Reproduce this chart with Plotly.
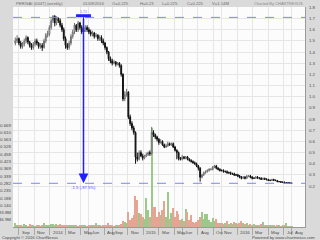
import pandas as pd
import plotly.graph_objects as go

# ---------------- data ----------------
first_week = "2013-08-19"
n_weeks = 155

opens = [1.48, 1.50, 1.52, 1.48, 1.45, 1.47, 1.50, 1.53, 1.49, 1.46,
         1.44, 1.47, 1.50, 1.48, 1.45, 1.46, 1.44, 1.50, 1.55, 1.56,
         1.62, 1.68, 1.72, 1.66, 1.70, 1.68, 1.64, 1.60, 1.52, 1.46,
         1.44, 1.48, 1.54, 1.58, 1.64, 1.60, 1.66, 1.62, 1.58, 1.60,
         1.62, 1.60, 1.58, 1.56, 1.57, 1.54, 1.55, 1.52, 1.53, 1.50,
         1.48, 1.44, 1.40, 1.34, 1.32, 1.30, 1.31, 1.29, 1.30, 1.28,
         1.20, 0.98, 1.02, 1.04, 0.82, 0.76, 0.72, 0.68, 0.46, 0.44,
         0.50, 0.47, 0.45, 0.47, 0.48, 0.50, 0.49, 0.68, 0.66, 0.64,
         0.62, 0.59, 0.60, 0.57, 0.55, 0.56, 0.58, 0.57, 0.58, 0.55,
         0.52, 0.50, 0.45, 0.44, 0.46, 0.45, 0.46, 0.44, 0.43, 0.42,
         0.41, 0.40, 0.38, 0.36, 0.28, 0.30, 0.32, 0.33, 0.34, 0.35,
         0.35, 0.37, 0.38, 0.36, 0.35, 0.34, 0.34, 0.33, 0.33, 0.32,
         0.32, 0.31, 0.31, 0.30, 0.30, 0.29, 0.28, 0.27, 0.28, 0.27,
         0.29, 0.29, 0.28, 0.27, 0.27, 0.28, 0.27, 0.27, 0.26, 0.27,
         0.26, 0.26, 0.25, 0.25, 0.26, 0.25, 0.25, 0.24, 0.24, 0.235,
         0.235, 0.23, 0.23, 0.23, 0.225]

highs = [1.53, 1.55, 1.53, 1.50, 1.49, 1.52, 1.55, 1.54, 1.50, 1.48,
         1.49, 1.52, 1.52, 1.49, 1.48, 1.48, 1.52, 1.57, 1.59, 1.64,
         1.70, 1.73, 1.73, 1.72, 1.71, 1.70, 1.66, 1.62, 1.54, 1.48,
         1.50, 1.56, 1.60, 1.66, 1.65, 1.68, 1.67, 1.64, 1.71, 1.64,
         1.64, 1.62, 1.60, 1.59, 1.58, 1.57, 1.56, 1.55, 1.55, 1.52,
         1.49, 1.45, 1.41, 1.36, 1.34, 1.33, 1.32, 1.31, 1.31, 1.29,
         1.21, 1.05, 1.07, 1.05, 0.84, 0.78, 0.74, 0.69, 0.50, 0.52,
         0.52, 0.49, 0.48, 0.50, 0.51, 0.52, 0.73, 0.70, 0.67, 0.65,
         0.63, 0.62, 0.61, 0.58, 0.58, 0.60, 0.59, 0.59, 0.59, 0.56,
         0.53, 0.51, 0.46, 0.48, 0.47, 0.47, 0.47, 0.45, 0.44, 0.43,
         0.42, 0.41, 0.39, 0.37, 0.31, 0.33, 0.34, 0.35, 0.36, 0.36,
         0.38, 0.39, 0.39, 0.37, 0.36, 0.35, 0.35, 0.34, 0.34, 0.33,
         0.33, 0.32, 0.32, 0.31, 0.31, 0.30, 0.29, 0.29, 0.29, 0.30,
         0.30, 0.30, 0.29, 0.28, 0.29, 0.29, 0.28, 0.28, 0.275, 0.275,
         0.27, 0.265, 0.26, 0.265, 0.265, 0.26, 0.255, 0.245, 0.245, 0.24,
         0.24, 0.235, 0.235, 0.235, 0.23]

lows = [1.46, 1.48, 1.46, 1.43, 1.43, 1.45, 1.48, 1.47, 1.44, 1.42,
        1.42, 1.45, 1.46, 1.43, 1.43, 1.41, 1.43, 1.48, 1.53, 1.54,
        1.60, 1.66, 1.63, 1.64, 1.66, 1.62, 1.58, 1.50, 1.43, 1.42,
        1.42, 1.46, 1.52, 1.56, 1.58, 1.58, 1.60, 1.56, 1.55, 1.58,
        1.58, 1.56, 1.54, 1.54, 1.52, 1.53, 1.50, 1.50, 1.48, 1.46,
        1.42, 1.38, 1.32, 1.30, 1.28, 1.29, 1.27, 1.28, 1.26, 1.18,
        0.96, 0.96, 1.00, 0.80, 0.74, 0.70, 0.66, 0.40, 0.42, 0.43,
        0.46, 0.43, 0.44, 0.46, 0.47, 0.47, 0.48, 0.64, 0.62, 0.60,
        0.57, 0.58, 0.56, 0.54, 0.54, 0.55, 0.56, 0.56, 0.54, 0.51,
        0.44, 0.43, 0.43, 0.43, 0.44, 0.44, 0.43, 0.42, 0.41, 0.40,
        0.39, 0.37, 0.34, 0.24, 0.27, 0.29, 0.31, 0.32, 0.33, 0.34,
        0.34, 0.36, 0.35, 0.34, 0.33, 0.33, 0.32, 0.32, 0.31, 0.31,
        0.30, 0.30, 0.29, 0.29, 0.28, 0.27, 0.26, 0.265, 0.26, 0.265,
        0.28, 0.27, 0.26, 0.265, 0.265, 0.265, 0.26, 0.255, 0.255, 0.255,
        0.25, 0.245, 0.245, 0.245, 0.245, 0.245, 0.235, 0.235, 0.23, 0.23,
        0.225, 0.225, 0.225, 0.22, 0.22]

closes = [1.50, 1.52, 1.48, 1.45, 1.47, 1.50, 1.53, 1.49, 1.46, 1.44,
          1.47, 1.50, 1.48, 1.45, 1.46, 1.44, 1.50, 1.55, 1.56, 1.62,
          1.68, 1.72, 1.66, 1.70, 1.68, 1.64, 1.60, 1.52, 1.46, 1.44,
          1.48, 1.54, 1.58, 1.64, 1.60, 1.66, 1.62, 1.58, 1.60, 1.62,
          1.60, 1.58, 1.56, 1.57, 1.54, 1.55, 1.52, 1.53, 1.50, 1.48,
          1.44, 1.40, 1.34, 1.32, 1.30, 1.31, 1.29, 1.30, 1.28, 1.20,
          0.98, 1.02, 1.04, 0.82, 0.76, 0.72, 0.68, 0.46, 0.44, 0.50,
          0.47, 0.45, 0.47, 0.48, 0.50, 0.49, 0.68, 0.66, 0.64, 0.62,
          0.59, 0.60, 0.57, 0.55, 0.56, 0.58, 0.57, 0.58, 0.55, 0.52,
          0.50, 0.45, 0.44, 0.46, 0.45, 0.46, 0.44, 0.43, 0.42, 0.41,
          0.40, 0.38, 0.36, 0.28, 0.30, 0.32, 0.33, 0.34, 0.35, 0.35,
          0.37, 0.38, 0.36, 0.35, 0.34, 0.34, 0.33, 0.33, 0.32, 0.32,
          0.31, 0.31, 0.30, 0.30, 0.29, 0.28, 0.27, 0.28, 0.27, 0.29,
          0.29, 0.28, 0.27, 0.27, 0.28, 0.27, 0.27, 0.26, 0.27, 0.26,
          0.26, 0.25, 0.25, 0.26, 0.25, 0.25, 0.24, 0.24, 0.235, 0.235,
          0.23, 0.23, 0.23, 0.225, 0.225]

volumes_m = [25, 10, 8, 12, 6, 16, 8, 6, 20, 10,
             8, 6, 12, 8, 6, 8, 26, 14, 10, 12,
             18, 20, 14, 16, 10, 18, 12, 8, 10, 14,
             10, 8, 12, 8, 10, 6, 8, 10, 12, 8,
             6, 10, 8, 14, 10, 26, 12, 8, 6, 8,
             10, 14, 22, 10, 8, 6, 10, 8, 12, 20,
             40, 30, 25, 92, 45, 55, 75, 195, 170, 85,
             80, 62, 52, 182, 105, 64, 620, 128, 125, 64,
             92, 74, 106, 162, 62, 220, 52, 85, 118, 62,
             100, 84, 42, 52, 36, 112, 95, 42, 74, 32,
             26, 32, 42, 64, 95, 52, 80, 80, 42, 32,
             58, 36, 48, 26, 22, 22, 16, 22, 38, 16,
             22, 16, 32, 22, 16, 26, 38, 22, 16, 22,
             10, 16, 10, 16, 10, 12, 10, 16, 32, 10,
             8, 12, 8, 10, 8, 6, 10, 8, 6, 10,
             8, 26, 6, 5, 4]

marked_week = 38          # highlighted (blue) candle, start of the measurement
measure_high = 1.71
measure_last = 0.225
measure_text = "-1.5 (-87.5%)"
measure_top_text = "1.71"

month_dates = ["2013-09-01", "2013-11-01", "2014-01-01", "2014-03-01", "2014-05-01",
               "2014-06-01", "2014-08-01", "2014-09-01", "2014-11-01", "2015-01-01",
               "2015-03-01", "2015-05-01", "2015-06-01", "2015-08-01", "2015-10-01",
               "2015-11-01", "2016-01-01", "2016-03-01", "2016-05-01", "2016-07-01",
               "2016-08-01"]
month_labels = ["Sep", "Nov", "2014", "Mar", "May", "Jun", "Aug", "Sep", "Nov", "2015",
                "Mar", "May", "Jun", "Aug", "Oct", "Nov", "2016", "Mar", "May", "Jul", "Aug"]

price_ticks = [0.2, 0.3, 0.4, 0.5, 0.6, 0.7, 0.8, 0.9, 1.0, 1.1, 1.2, 1.3, 1.4, 1.5, 1.6, 1.7, 1.8]
price_tick_text = ["0.2", "0.3", "0.4", "0.5", "0.6", "0.7", "0.8", "0.9", "1.0", "1.1",
                   "1.2", "1.3", "1.4", "1.5", "1.6", "1.7", "1.8"]
left_odd_labels = ["0.669", "0.610", "0.563", "0.528", "0.458", "0.423", "0.369",
                   "0.339", "0.282", "0.235", "0.188", "0.140"]
vol_ticks = [46.9, 93.8]
vol_tick_text = ["46.9M", "93.8M"]

header_items = ["PERISAI (0047) (weekly)", "01/08/2016", "O=0.225", "H=0.23",
                "L=0.225", "C=0.225", "V=1.14M"]

# ---------------- figure ----------------
dates = pd.date_range(first_week, periods=n_weeks, freq="7D")
W, H = 320, 240
ML, MR, MT, MB = 13, 15, 7, 13
PW, PH = W - ML - MR, H - MT - MB


def px_x(p):
    return (p - ML) / PW


def px_y(p):
    return (H - MB - p) / PH


FONT = "Liberation Sans"
TXT = "#4a4a4a"

vol_colors = ["#9cc98a" if c >= o else "#e6a593" for o, c in zip(opens, closes)]

fig = go.Figure()
fig.add_trace(go.Bar(x=dates, y=volumes_m, marker=dict(color=vol_colors, line=dict(width=0)),
                     width=5 * 86400000, yaxis="y", showlegend=False, hoverinfo="skip"))
fig.add_trace(go.Candlestick(x=dates, open=opens, high=highs, low=lows, close=closes,
                             yaxis="y2", showlegend=False, whiskerwidth=0,
                             increasing=dict(line=dict(color="#707070", width=1), fillcolor="#ffffff"),
                             decreasing=dict(line=dict(color="#111111", width=1), fillcolor="#111111")))
m = marked_week
fig.add_trace(go.Candlestick(x=[dates[m]], open=[opens[m]], high=[highs[m]], low=[lows[m]],
                             close=[closes[m]], yaxis="y2", showlegend=False, whiskerwidth=0,
                             increasing=dict(line=dict(color="#1f1fff", width=1), fillcolor="#1f1fff"),
                             decreasing=dict(line=dict(color="#1f1fff", width=1), fillcolor="#1f1fff")))

# left odd labels (dummy axis in pixel-like units from the bottom)
odd_pos = [(H - MB) - (125 + 7.3 * k) for k in range(len(left_odd_labels))]

shapes = [
    dict(type="line", xref="paper", x0=0, x1=1, yref="y2", y0=measure_high, y1=measure_high,
         line=dict(color="#8484ff", width=1, dash="dash"), layer="above"),
    dict(type="line", xref="paper", x0=0, x1=1, yref="y2", y0=measure_last, y1=measure_last,
         line=dict(color="#8484ff", width=1, dash="dash"), layer="above"),
    dict(type="line", xref="x", x0=dates[m] - pd.Timedelta(days=29), x1=dates[m] + pd.Timedelta(days=29),
         yref="y2", y0=measure_high + 0.015, y1=measure_high + 0.015,
         line=dict(color="#1f1fff", width=3), layer="above"),
]

annotations = [
    dict(x=dates[m], y=measure_last, xref="x", yref="y2", ax=dates[m], ay=measure_high,
         axref="x", ayref="y2", text="", showarrow=True, arrowhead=2, arrowsize=1.3,
         arrowwidth=1.5, arrowcolor="#1f1fff"),
    dict(x=dates[m], y=measure_last - 0.035, xref="x", yref="y2", text=measure_text,
         showarrow=False, font=dict(family=FONT, size=4.2, color="#4d4dff")),
    dict(x=dates[m], y=measure_high + 0.05, xref="x", yref="y2", text=measure_top_text,
         showarrow=False, font=dict(family=FONT, size=3.6, color="#6f6fdf")),
]

header_x = [14, 81, 110, 138, 160, 185, 210]
for t, hx in zip(header_items, header_x):
    annotations.append(dict(x=px_x(hx), y=px_y(3.5), xref="paper", yref="paper", text=t,
                            showarrow=False, xanchor="left", yanchor="middle",
                            font=dict(family=FONT, size=4.2, color="#6a6a6a")))
annotations.append(dict(x=px_x(305), y=px_y(3.5), xref="paper", yref="paper",
                        text="Charted By CHARTNEXUS", showarrow=False, xanchor="right",
                        yanchor="middle", font=dict(family=FONT, size=4.0, color="#8a8a8a")))

for d, lab in zip(month_dates, month_labels):
    annotations.append(dict(x=d, y=px_y(232), xref="x", yref="paper", text=lab,
                            showarrow=False, xanchor="left", yanchor="middle", xshift=1,
                            font=dict(family=FONT, size=4.4, color=TXT)))

annotations.append(dict(x=px_x(0), y=px_y(237.5), xref="paper", yref="paper",
                        text="Copyright © 2016 ChartNexus", showarrow=False, xanchor="left",
                        yanchor="middle", font=dict(family=FONT, size=4.2, color=TXT)))
annotations.append(dict(x=px_x(317), y=px_y(237.5), xref="paper", yref="paper",
                        text="Powered by www.chartnexus.com", showarrow=False, xanchor="right",
                        yanchor="middle", font=dict(family=FONT, size=4.2, color=TXT)))

tickfont = dict(family=FONT, size=4.4, color=TXT)

fig.update_layout(
    template="none",
    width=W, height=H,
    margin=dict(l=ML, r=MR, t=MT, b=MB, pad=0),
    paper_bgcolor="#dadada",
    plot_bgcolor="#fcfcfc",
    showlegend=False,
    bargap=0,
    xaxis=dict(type="date", range=["2013-08-10", "2016-09-22"], tickvals=month_dates,
               ticktext=["" for _ in month_dates], showticklabels=False,
               showgrid=True, gridcolor="#e6e6e6", gridwidth=1, zeroline=False,
               ticks="outside", ticklen=7, tickcolor="#a8a8a8", tickwidth=1,
               showline=True, linecolor="#9a9a9a", linewidth=1,
               rangeslider=dict(visible=False), fixedrange=True),
    yaxis=dict(range=[0, 1375.7], side="left", tickvals=vol_ticks, ticktext=vol_tick_text,
               showgrid=False, zeroline=False, ticks="", tickfont=tickfont,
               ticklabelstandoff=1, fixedrange=True),
    yaxis2=dict(range=[-0.166, 1.803], overlaying="y", side="right", tickvals=price_ticks,
                ticktext=price_tick_text, showgrid=True, gridcolor="#e6e6e6", gridwidth=1,
                zeroline=False, ticks="", tickfont=tickfont, showline=True,
                linecolor="#9a9a9a", linewidth=1, ticklabelstandoff=2, fixedrange=True),
    yaxis3=dict(range=[0, PH], overlaying="y", side="left", tickvals=odd_pos,
                ticktext=left_odd_labels, showgrid=False, zeroline=False, ticks="",
                tickfont=tickfont, ticklabelstandoff=1, fixedrange=True),
    shapes=shapes,
    annotations=annotations,
)
# attach an invisible trace so yaxis3 is drawn
fig.add_trace(go.Scatter(x=[dates[0]], y=[0], yaxis="y3", mode="markers",
                         marker=dict(opacity=0), showlegend=False, hoverinfo="skip"))

fig.write_html("out.html")
